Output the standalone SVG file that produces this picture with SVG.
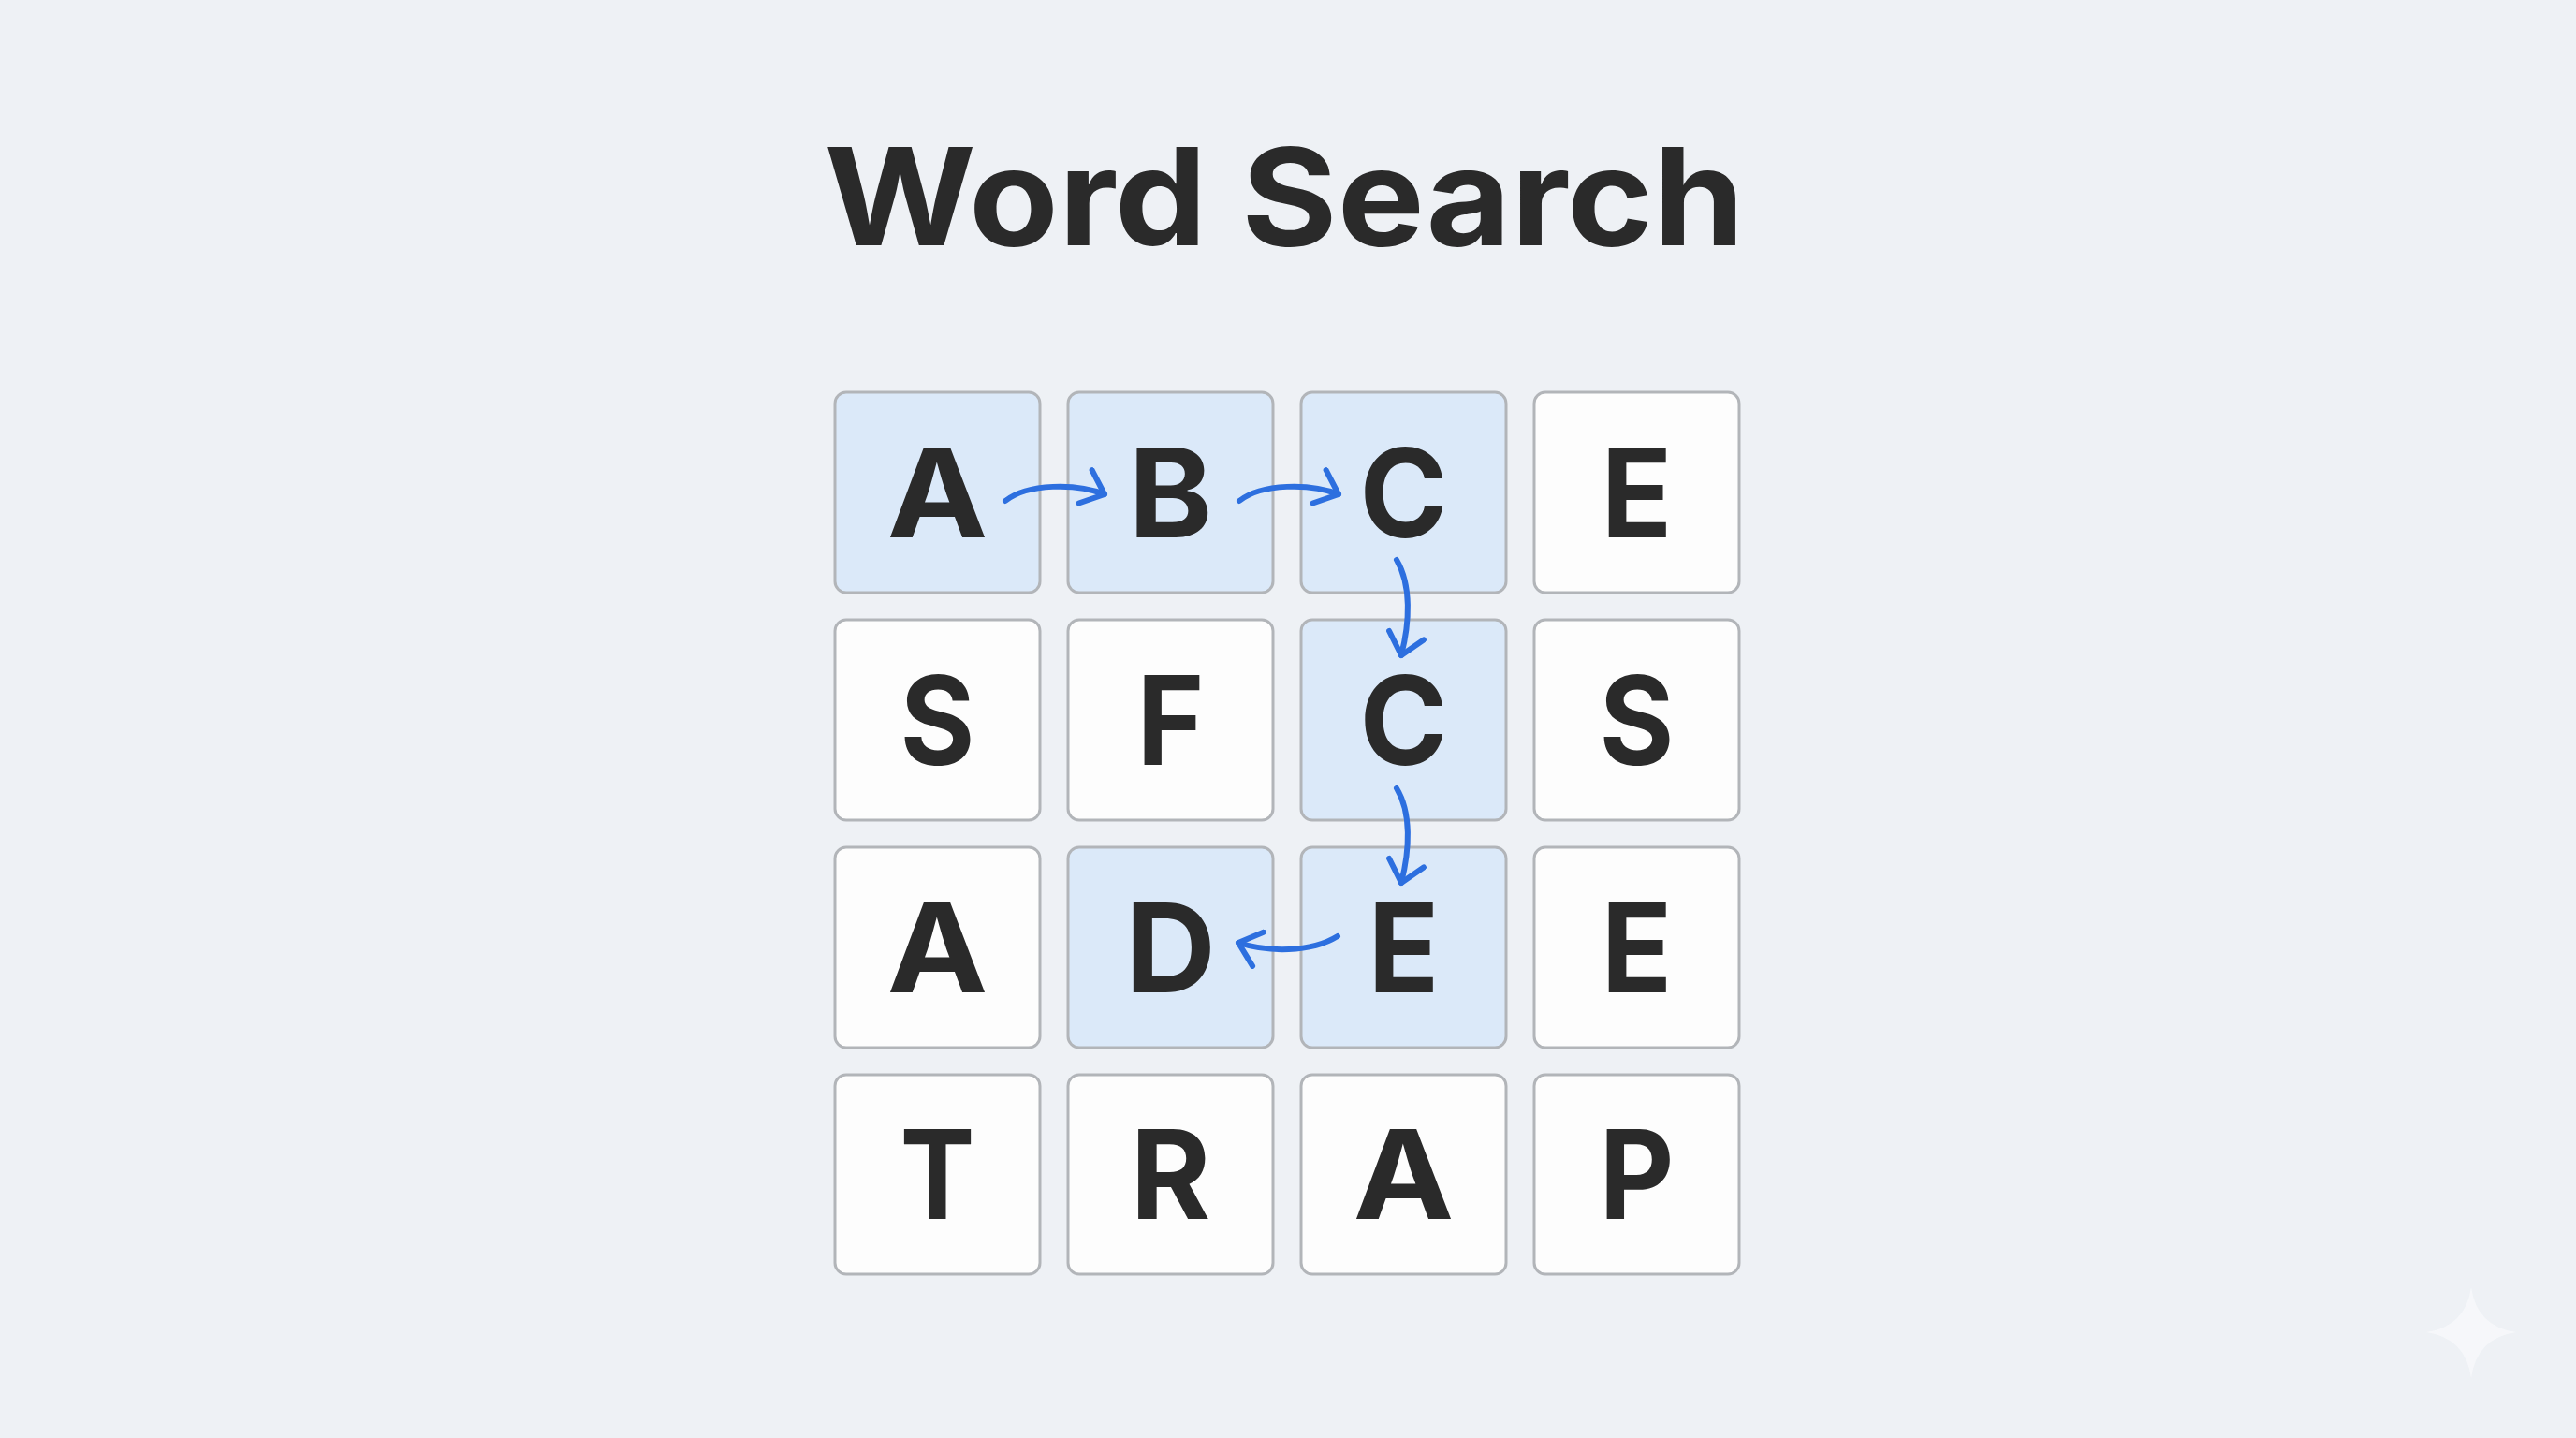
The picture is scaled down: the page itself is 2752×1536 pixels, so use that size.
<svg xmlns="http://www.w3.org/2000/svg" width="2752" height="1536" viewBox="0 0 2752 1536">
<defs>
<style>
.bg{fill:#eef1f5}
.cell rect{fill:#fdfdfd;stroke:#b2b5b9;stroke-width:3}
.cell.hl rect{fill:#dbe9f9}
.cell text{font-family:Inter,"Liberation Sans",sans-serif;font-weight:700;font-size:132px;fill:#2a2a2a;text-anchor:middle}
.title{font-family:Inter,"Liberation Sans",sans-serif;font-weight:700;font-size:144px;fill:#2a2a2a;text-anchor:middle}
.arrow{fill:none;stroke:#2d6fdf;stroke-width:6;stroke-linecap:round;marker-end:url(#ah)}
</style>
<marker id="ah" viewBox="0 0 32 44" refX="28" refY="22" markerWidth="32" markerHeight="44" markerUnits="userSpaceOnUse" orient="auto">
<path d="M6,3 L28,22 L6,41" fill="none" stroke="#2d6fdf" stroke-width="6" stroke-linecap="round" stroke-linejoin="round"/>
</marker>
</defs>
<rect class="bg" x="0" y="0" width="2752" height="1536"/>
<text class="title" x="1372" y="262" textLength="983" lengthAdjust="spacingAndGlyphs">Word Search</text>

<g id="r1c1" class="cell hl"><rect x="892" y="419" width="219" height="214" rx="12"/><text x="1001.5" y="574" textLength="108" lengthAdjust="spacingAndGlyphs">A</text></g>
<g id="r1c2" class="cell hl"><rect x="1141" y="419" width="219" height="214" rx="12"/><text x="1250.5" y="574" textLength="90" lengthAdjust="spacingAndGlyphs">B</text></g>
<g id="r1c3" class="cell hl"><rect x="1390" y="419" width="219" height="214" rx="12"/><text x="1499.5" y="574" textLength="94" lengthAdjust="spacingAndGlyphs">C</text></g>
<g id="r1c4" class="cell"><rect x="1639" y="419" width="219" height="214" rx="12"/><text x="1748.5" y="574" textLength="76" lengthAdjust="spacingAndGlyphs">E</text></g>

<g id="r2c1" class="cell"><rect x="892" y="662" width="219" height="214" rx="12"/><text x="1001.5" y="817" textLength="80" lengthAdjust="spacingAndGlyphs">S</text></g>
<g id="r2c2" class="cell"><rect x="1141" y="662" width="219" height="214" rx="12"/><text x="1250.5" y="817" textLength="72" lengthAdjust="spacingAndGlyphs">F</text></g>
<g id="r2c3" class="cell hl"><rect x="1390" y="662" width="219" height="214" rx="12"/><text x="1499.5" y="817" textLength="94" lengthAdjust="spacingAndGlyphs">C</text></g>
<g id="r2c4" class="cell"><rect x="1639" y="662" width="219" height="214" rx="12"/><text x="1748.5" y="817" textLength="80" lengthAdjust="spacingAndGlyphs">S</text></g>

<g id="r3c1" class="cell"><rect x="892" y="905" width="219" height="214" rx="12"/><text x="1001.5" y="1060" textLength="108" lengthAdjust="spacingAndGlyphs">A</text></g>
<g id="r3c2" class="cell hl"><rect x="1141" y="905" width="219" height="214" rx="12"/><text x="1250.5" y="1060" textLength="97" lengthAdjust="spacingAndGlyphs">D</text></g>
<g id="r3c3" class="cell hl"><rect x="1390" y="905" width="219" height="214" rx="12"/><text x="1499.5" y="1060" textLength="76" lengthAdjust="spacingAndGlyphs">E</text></g>
<g id="r3c4" class="cell"><rect x="1639" y="905" width="219" height="214" rx="12"/><text x="1748.5" y="1060" textLength="76" lengthAdjust="spacingAndGlyphs">E</text></g>

<g id="r4c1" class="cell"><rect x="892" y="1148" width="219" height="213" rx="12"/><text x="1001.5" y="1302" textLength="80" lengthAdjust="spacingAndGlyphs">T</text></g>
<g id="r4c2" class="cell"><rect x="1141" y="1148" width="219" height="213" rx="12"/><text x="1250.5" y="1302" textLength="86" lengthAdjust="spacingAndGlyphs">R</text></g>
<g id="r4c3" class="cell"><rect x="1390" y="1148" width="219" height="213" rx="12"/><text x="1499.5" y="1302" textLength="108" lengthAdjust="spacingAndGlyphs">A</text></g>
<g id="r4c4" class="cell"><rect x="1639" y="1148" width="219" height="213" rx="12"/><text x="1748.5" y="1302" textLength="80" lengthAdjust="spacingAndGlyphs">P</text></g>

<g id="connectors">
<path class="arrow" d="M1074,535 C1098,516 1150,516 1180,528"/>
<path class="arrow" d="M1324,535 C1348,516 1400,516 1430,528"/>
<path class="arrow" d="M1492,598 C1508,625 1506,665 1497,700"/>
<path class="arrow" d="M1492,842 C1508,868 1506,908 1497,943"/>
<path class="arrow" d="M1429,1000 C1400,1018 1354,1017 1323,1007"/>
</g>

<path d="M2640,1375 Q2646,1417 2688,1423 Q2646,1429 2640,1472 Q2634,1429 2592,1423 Q2634,1417 2640,1375 Z" fill="#f7f9fb" opacity="0.8"/>
</svg>
